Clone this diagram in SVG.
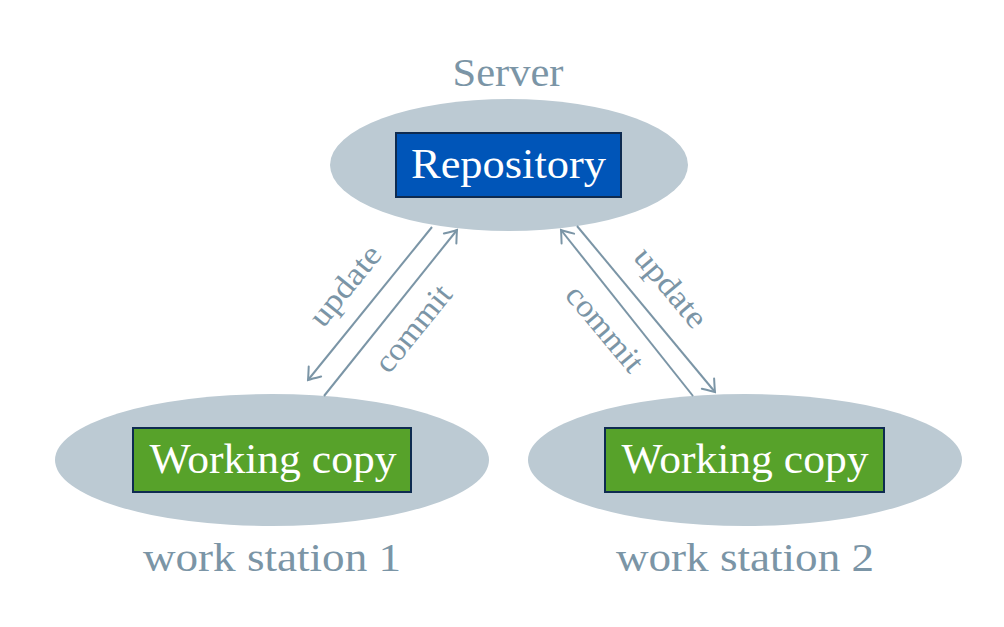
<svg xmlns="http://www.w3.org/2000/svg" width="1004" height="627" viewBox="0 0 1004 627">
<style>
.ell{fill:#bccad3;}
.repo{fill:#0055b8;stroke:#0e2b50;stroke-width:2;}
.wc{fill:#57a22a;stroke:#0e2b50;stroke-width:2;}
.inner{font-family:"Liberation Serif",serif;font-size:42px;fill:#ffffff;text-anchor:middle;}
.cap{font-family:"Liberation Serif",serif;font-size:40px;fill:#7b95a6;text-anchor:middle;}
.lbl{font-family:"Liberation Serif",serif;font-size:32px;fill:#7b95a6;text-anchor:middle;}
.con{stroke:#7b95a6;stroke-width:2;fill:none;}
</style>
<defs>
<marker id="arr" markerUnits="userSpaceOnUse" viewBox="-14 -10 16 20" refX="0" refY="0" markerWidth="16" markerHeight="20" orient="auto">
<path d="M -11 -8 Q -3 -2 0 0 Q -3 2 -11 8" fill="none" stroke="#7b95a6" stroke-width="2" stroke-linecap="round"/>
</marker>
</defs>
<rect width="1004" height="627" fill="#ffffff"/>
<g id="server">
<ellipse class="ell" cx="509" cy="165" rx="179" ry="66"/>
<rect class="repo" x="396" y="133" width="225" height="64"/>
<text class="inner" x="508.5" y="178" textLength="195" lengthAdjust="spacingAndGlyphs">Repository</text>
<text class="cap" x="508" y="86" textLength="111" lengthAdjust="spacingAndGlyphs">Server</text>
</g>
<g id="ws1">
<ellipse class="ell" cx="272" cy="460" rx="217" ry="66"/>
<rect class="wc" x="133" y="428" width="278" height="64"/>
<text class="inner" x="273" y="473" textLength="247" lengthAdjust="spacingAndGlyphs">Working copy</text>
<text class="cap" x="272" y="571" textLength="258" lengthAdjust="spacingAndGlyphs">work station 1</text>
</g>
<g id="ws2">
<ellipse class="ell" cx="745" cy="460" rx="217" ry="66"/>
<rect class="wc" x="605" y="428" width="279" height="64"/>
<text class="inner" x="745" y="473" textLength="247" lengthAdjust="spacingAndGlyphs">Working copy</text>
<text class="cap" x="745" y="571" textLength="258" lengthAdjust="spacingAndGlyphs">work station 2</text>
</g>
<g id="connectors">
<line class="con" x1="432" y1="227" x2="308" y2="380" marker-end="url(#arr)"/>
<line class="con" x1="324" y1="396" x2="457" y2="230" marker-end="url(#arr)"/>
<line class="con" x1="577" y1="226" x2="715" y2="392" marker-end="url(#arr)"/>
<line class="con" x1="693" y1="396" x2="561" y2="230" marker-end="url(#arr)"/>
<g transform="translate(347,287) rotate(-51)"><text class="lbl" x="0" y="8" textLength="95" lengthAdjust="spacingAndGlyphs">update</text></g>
<g transform="translate(415,330) rotate(-51)"><text class="lbl" x="0" y="8" textLength="103" lengthAdjust="spacingAndGlyphs">commit</text></g>
<g transform="translate(669,289) rotate(50)"><text class="lbl" x="0" y="8" textLength="95" lengthAdjust="spacingAndGlyphs">update</text></g>
<g transform="translate(603,330) rotate(50)"><text class="lbl" x="0" y="8" textLength="103" lengthAdjust="spacingAndGlyphs">commit</text></g>
</g>
</svg>
